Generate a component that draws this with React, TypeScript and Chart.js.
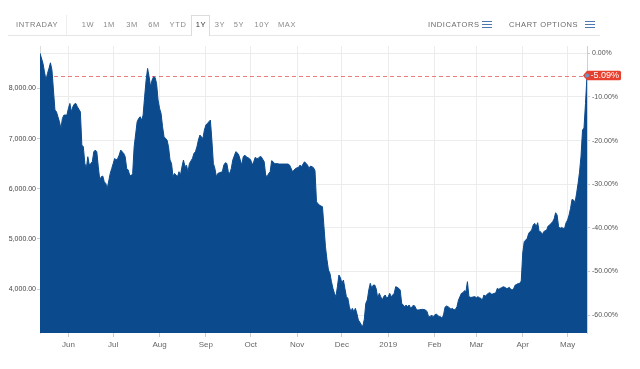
import React, { useEffect, useRef } from 'react';
import { Chart, registerables } from 'chart.js';

Chart.register(...registerables);

// Day offsets from the first session (13 May 2018) and closing prices
const days = [
  0, 2, 3, 4, 5, 6, 7, 8, 9, 10, 11, 12, 13, 14, 15, 16, 18, 19, 20, 21, 22, 23, 24, 25, 27, 28, 29,
  30, 31, 32, 33, 34, 35, 36, 37, 38, 39, 40, 41, 42, 43, 44, 45, 47, 48, 49, 50, 51, 52, 53, 54, 56,
  57, 58, 59, 60, 61, 62, 63, 65, 66, 67, 68, 69, 70, 71, 72, 73, 74, 75, 76, 77, 78, 79, 80, 81, 82,
  83, 85, 86, 87, 88, 89, 90, 91, 92, 93, 94, 95, 96, 97, 98, 99, 100, 102, 103, 104, 105, 106, 107,
  108, 109, 110, 111, 112, 114, 115, 116, 117, 118, 119, 120, 122, 123, 124, 125, 126, 127, 128, 129,
  131, 132, 133, 134, 135, 136, 137, 138, 140, 141, 142, 143, 144, 145, 146, 147, 148, 150, 151, 152,
  153, 154, 155, 156, 157, 158, 160, 162, 164, 166, 167, 169, 170, 171, 173, 174, 175, 176, 177, 179,
  180, 181, 182, 183, 184, 185, 186, 187, 188, 189, 190, 191, 192, 193, 194, 195, 196, 197, 198, 199,
  200, 201, 202, 203, 204, 205, 206, 207, 208, 209, 210, 211, 212, 213, 214, 215, 216, 217, 218, 219,
  220, 221, 222, 223, 224, 225, 226, 227, 228, 229, 230, 231, 232, 233, 234, 235, 236, 237, 238, 239,
  240, 241, 242, 243, 244, 245, 246, 247, 248, 249, 250, 251, 252, 253, 254, 256, 258, 259, 260, 261,
  262, 263, 264, 265, 266, 267, 268, 269, 270, 271, 272, 273, 275, 276, 277, 278, 279, 280, 281, 282,
  283, 284, 285, 286, 287, 288, 289, 290, 291, 292, 293, 294, 295, 296, 297, 298, 299, 300, 301, 302,
  303, 304, 305, 306, 307, 308, 309, 310, 311, 312, 313, 314, 315, 316, 317, 318, 319, 320, 321, 322,
  323, 324, 325, 326, 327, 328, 329, 330, 331, 332, 333, 334, 335, 336, 337, 338, 339, 340, 341, 342,
  343, 344, 345, 346, 347, 348, 349, 350, 351, 352, 353, 354, 355, 356, 357, 358, 359, 360, 361, 362,
  363, 364, 365, 366,
];

const prices = [
  8700, 8497, 8331, 8165, 8298, 8398, 8510, 8364, 7966, 7568, 7534, 7435, 7335, 7202, 7401, 7468, 7468,
  7601, 7700, 7534, 7634, 7687, 7700, 7634, 7534, 6870, 6837,
  6505, 6406, 6638, 6472, 6505, 6538, 6738, 6771, 6738, 6439, 6173, 6240, 6253, 6140, 6107, 6007, 6306,
  6406, 6505, 6605, 6572, 6605, 6671, 6771, 6704,
  6638, 6406, 6373, 6273, 6253, 6306, 6837, 7335, 7401, 7435, 7368, 7468, 7833, 8165, 8398, 8232, 8032,
  8165, 8232, 8218, 8099, 7767, 7601, 7501, 7236,
  7036, 6970, 6837, 6572, 6505, 6240, 6306, 6273, 6240, 6339, 6273, 6439, 6572, 6439, 6472, 6339, 6505,
  6605, 6704, 6738, 6837, 6970, 7070,
  7036, 7003, 7169, 7269, 7302, 7368, 6970, 6505, 6406, 6240, 6306, 6319, 6339, 6472, 6518, 6505, 6339,
  6306, 6406, 6572,
  6738, 6718, 6671, 6572, 6472, 6638, 6671, 6638, 6605, 6572, 6472, 6538, 6625, 6605, 6605, 6638, 6638,
  6538, 6273, 6240,
  6306, 6339, 6558, 6538, 6492, 6505, 6492, 6492, 6492, 6492, 6472, 6339, 6373, 6406, 6426, 6472, 6439,
  6492, 6538, 6472,
  6406, 6452, 6439, 6420, 6360, 5742, 5700, 5675, 5655, 5642, 5244, 4845, 4590, 4380, 4314, 4150, 4015,
  3916, 3849, 4048,
  4281, 4230, 4115, 4181, 4015, 3849, 3816, 3650, 3550, 3617, 3550, 3617, 3517, 3384, 3340, 3285, 3260,
  3400, 3716, 3783,
  3982, 4115, 4015, 4081, 4081, 4000, 3816, 3916, 3849, 3783, 3850, 3882, 3816, 3849, 3916, 3849, 3882,
  3916, 4048, 4035,
  4015, 3982, 3716, 3683, 3650, 3683, 3650, 3683, 3617, 3650, 3683, 3650, 3584, 3584, 3590, 3597, 3584,
  3550, 3451, 3451,
  3484, 3451, 3480, 3504, 3484, 3451, 3451, 3418, 3484, 3640, 3663, 3650, 3600, 3617, 3584, 3597, 3650,
  3780, 3850, 3916,
  3929, 3969, 3949, 4148, 3849, 3836, 3836, 3845, 3849, 3829, 3849, 3830, 3816, 3783, 3882, 3862, 3890,
  3916, 3929, 3902,
  3902, 3915, 3929, 4015, 3995, 4015, 4030, 4048, 4035, 4015, 4015, 4035, 3995, 3982, 4015, 4081, 4095,
  4110, 4115, 4160,
  4720, 4945, 4978, 5011, 5111, 5150, 5177, 5277, 5310, 5244, 5323, 5144, 5144, 5078, 5144, 5164, 5177,
  5257, 5277, 5310,
  5343, 5400, 5522, 5476, 5244, 5211, 5230, 5211, 5211, 5323, 5376, 5476, 5609, 5788, 5775, 5722, 5900,
  6100, 6330, 6650,
  7169, 7210, 7700, 8257,
];

const monthTickDays = [19, 49, 80, 111, 141, 172, 202, 233, 264, 292, 323, 353];
const monthTickLabels = ['Jun', 'Jul', 'Aug', 'Sep', 'Oct', 'Nov', 'Dec', '2019', 'Feb', 'Mar', 'Apr', 'May'];
const priceTicks = [4000, 5000, 6000, 7000, 8000];
const percentTicks = [-60, -50, -40, -30, -20, -10, 0];
const rangeButtons = ['1W', '1M', '3M', '6M', 'YTD', '1Y', '3Y', '5Y', '10Y', 'MAX'];
const activeRange = '1Y';

const X_MIN = 0;
const X_MAX = 366;
const Y_MIN = 3125;
const Y_MAX = 8845;

const BLUE = '#0b4a8c';
const RED = '#e8402e';
const FONT = '"Liberation Sans", Arial, Helvetica, sans-serif';

const buttonCenters = [88, 109, 132, 154, 178, 201, 220, 239, 262, 287];

const lastPricePlugin = {
  id: 'lastPrice',
  beforeDatasetsDraw(chart: any) {
    const { ctx, chartArea, scales } = chart;
    const last = prices[prices.length - 1];
    const y = Math.round(scales.y.getPixelForValue(last)) + 0.5;
    ctx.save();
    ctx.strokeStyle = 'rgba(232, 80, 80, 0.75)';
    ctx.lineWidth = 1;
    ctx.setLineDash([4, 3]);
    ctx.beginPath();
    ctx.moveTo(chartArea.left, y);
    ctx.lineTo(chartArea.right, y);
    ctx.stroke();
    ctx.restore();
  },
  afterDraw(chart: any) {
    const { ctx, chartArea, scales } = chart;
    const base = prices[0];
    const last = prices[prices.length - 1];
    const pct = (last / base - 1) * 100;
    const y = scales.y.getPixelForValue(last);
    const xr = chartArea.right;
    ctx.save();
    // label box with arrow
    const h = 9.5;
    const left = xr - 4;
    const right = xr + 34;
    ctx.fillStyle = RED;
    ctx.beginPath();
    ctx.moveTo(left, y);
    ctx.lineTo(left + 4, y - h / 2);
    ctx.lineTo(right - 1.5, y - h / 2);
    ctx.quadraticCurveTo(right, y - h / 2, right, y - h / 2 + 1.5);
    ctx.lineTo(right, y + h / 2 - 1.5);
    ctx.quadraticCurveTo(right, y + h / 2, right - 1.5, y + h / 2);
    ctx.lineTo(left + 4, y + h / 2);
    ctx.closePath();
    ctx.fill();
    ctx.fillStyle = '#ffffff';
    ctx.font = '9px ' + FONT;
    ctx.textAlign = 'left';
    ctx.textBaseline = 'middle';
    ctx.fillText(pct.toFixed(2) + '%', xr + 3.5, y + 0.5);
    // end marker
    ctx.beginPath();
    ctx.arc(xr, y, 2.6, 0, Math.PI * 2);
    ctx.fillStyle = '#6b93c0';
    ctx.fill();
    ctx.lineWidth = 1;
    ctx.strokeStyle = RED;
    ctx.stroke();
    ctx.restore();
  },
};

function Toolbar() {
  const textBase: React.CSSProperties = {
    position: 'absolute',
    top: 20,
    fontFamily: FONT,
    fontSize: 7.5,
    lineHeight: '10px',
    letterSpacing: 0.6,
    color: '#7a7a7a',
    whiteSpace: 'nowrap',
  };
  const icon = (left: number) => (
    <div style={{ position: 'absolute', left, top: 21, width: 10, height: 7 }}>
      {[0, 3, 6].map((t) => (
        <div key={t} style={{ position: 'absolute', left: 0, top: t, width: 10, height: 1, background: '#4f78b0' }} />
      ))}
    </div>
  );
  return (
    <div style={{ position: 'absolute', left: 0, top: 0, width: 640, height: 40 }}>
      <div style={{ position: 'absolute', left: 8, top: 35, width: 592, height: 1, background: '#e6e6e6' }} />
      <div style={{ position: 'absolute', left: 66, top: 15, width: 1, height: 20, background: '#eeeeee' }} />
      <span style={{ ...textBase, left: 16 }}>INTRADAY</span>
      {rangeButtons.map((b, i) => {
        const active = b === activeRange;
        return (
          <React.Fragment key={b}>
            {active && (
              <div
                style={{
                  position: 'absolute',
                  left: 191,
                  top: 15,
                  width: 19,
                  height: 21,
                  borderTop: '1px solid #dcdcdc',
                  borderLeft: '1px solid #dcdcdc',
                  borderRight: '1px solid #dcdcdc',
                  background: '#ffffff',
                  boxSizing: 'border-box',
                }}
              />
            )}
            <span
              style={{
                ...textBase,
                left: buttonCenters[i],
                transform: 'translateX(-50%)',
                color: active ? '#333333' : '#8a8a8a',
              }}
            >
              {b}
            </span>
          </React.Fragment>
        );
      })}
      <span style={{ ...textBase, left: 428, color: '#6a6a6a' }}>INDICATORS</span>
      {icon(482)}
      <span style={{ ...textBase, left: 509, color: '#6a6a6a' }}>CHART OPTIONS</span>
      {icon(585)}
    </div>
  );
}

export default function App() {
  const canvasRef = useRef<HTMLCanvasElement | null>(null);

  useEffect(() => {
    if (!canvasRef.current) return;
    const base = prices[0];
    const chart = new Chart(canvasRef.current, {
      type: 'line',
      data: {
        datasets: [
          {
            data: days.map((d, i) => ({ x: d, y: prices[i] })),
            borderColor: BLUE,
            backgroundColor: BLUE,
            borderWidth: 1,
            fill: 'start',
            pointRadius: 0,
            tension: 0,
            yAxisID: 'y',
          },
        ],
      },
      options: {
        animation: false,
        responsive: false,
        events: [],
        layout: { padding: { top: 46, left: 0, right: 0, bottom: 0 } },
        plugins: { legend: { display: false }, tooltip: { enabled: false } },
        scales: {
          x: {
            type: 'linear',
            position: 'bottom',
            min: X_MIN,
            max: X_MAX,
            afterBuildTicks: (s: any) => {
              s.ticks = monthTickDays.map((v) => ({ value: v }));
            },
            afterFit: (s: any) => {
              s.height = 36;
            },
            ticks: {
              autoSkip: false,
              maxRotation: 0,
              padding: 3,
              color: '#666666',
              font: { family: FONT, size: 8 },
              callback: (_v: any, i: number) => monthTickLabels[i],
            },
            grid: { color: '#ececec', tickLength: 4, tickColor: '#cccccc' },
            border: { display: false },
          },
          y: {
            type: 'linear',
            position: 'left',
            min: Y_MIN,
            max: Y_MAX,
            afterBuildTicks: (s: any) => {
              s.ticks = priceTicks.map((v) => ({ value: v }));
            },
            afterFit: (s: any) => {
              s.width = 40;
            },
            ticks: {
              padding: 1,
              color: '#444444',
              font: { family: FONT, size: 7 },
              callback: (v: any) =>
                Number(v).toLocaleString('en-US', { minimumFractionDigits: 2, maximumFractionDigits: 2 }),
            },
            grid: { drawOnChartArea: false, tickLength: 3, color: '#cccccc' },
            border: { display: true, color: '#dddddd' },
          },
          y2: {
            type: 'linear',
            position: 'right',
            min: (Y_MIN / base - 1) * 100,
            max: (Y_MAX / base - 1) * 100,
            afterBuildTicks: (s: any) => {
              s.ticks = percentTicks.map((v) => ({ value: v }));
            },
            afterFit: (s: any) => {
              s.width = 53;
            },
            ticks: {
              padding: 2,
              color: '#555555',
              font: { family: FONT, size: 7 },
              callback: (v: any) => Number(v).toFixed(2) + '%',
            },
            grid: { color: '#ececec', tickLength: 3, tickColor: '#cccccc' },
            border: { display: true, color: '#d0d0d0' },
          },
        },
      },
      plugins: [lastPricePlugin],
    } as any);
    return () => chart.destroy();
  }, []);

  return (
    <div style={{ position: 'absolute', left: 0, top: 0, width: 640, height: 369, background: '#ffffff' }}>
      <canvas ref={canvasRef} width={640} height={369} style={{ position: 'absolute', left: 0, top: 0, display: 'block' }} />
      <Toolbar />
    </div>
  );
}
